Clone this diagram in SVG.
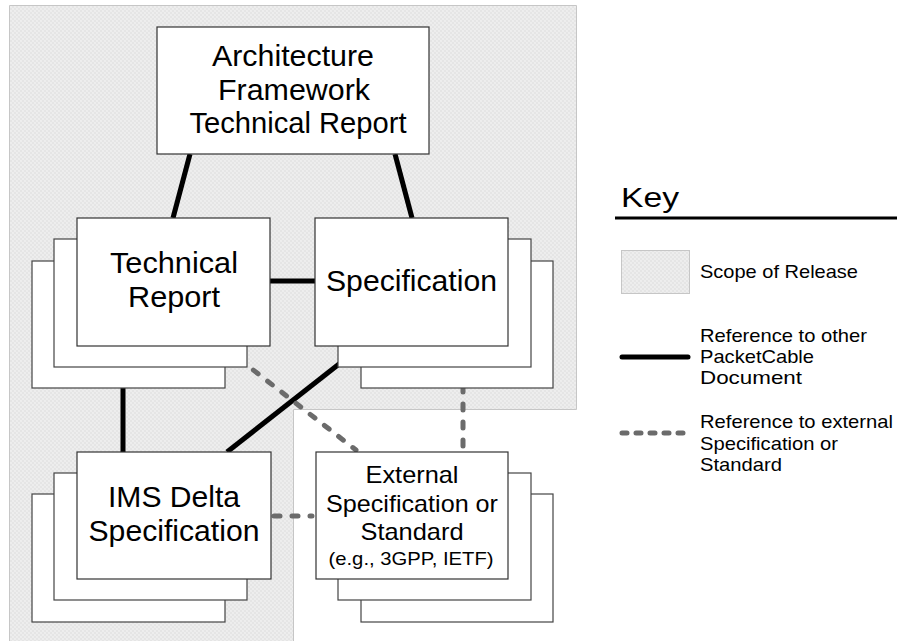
<svg xmlns="http://www.w3.org/2000/svg" width="897" height="641" viewBox="0 0 897 641">
<defs>
<pattern id="dots" width="4" height="4" patternUnits="userSpaceOnUse">
<rect width="4" height="4" fill="#e5e5e5"/>
<circle cx="1" cy="1" r="0.9" fill="#f2f2f2"/>
<circle cx="3" cy="3" r="0.9" fill="#f2f2f2"/>
</pattern>
<style>
.scope{fill:url(#dots);stroke:#c6c6c6;stroke-width:1}
.box{fill:#ffffff;stroke:#333333;stroke-width:1.2}
.back{fill:#ffffff;stroke:#444444;stroke-width:1.2}
.t{font-family:"Liberation Sans",Arial,sans-serif;fill:#000000;text-anchor:middle;font-size:29px}
.k{font-family:"Liberation Sans",Arial,sans-serif;fill:#000000;font-size:19px}
.solid{stroke:#000000;stroke-width:5;fill:none}
.dash{stroke:#6b6b6b;stroke-width:5;fill:none;stroke-linecap:round;stroke-dasharray:6 12}
</style>
</defs>
<rect width="897" height="641" fill="#ffffff"/>
<g id="scope">
<polygon class="scope" points="9.5,5.5 576.5,5.5 576.5,409.5 293.5,409.5 293.5,645 9.5,645"/>
</g>
<g id="connectors">
<line class="solid" x1="190" y1="154" x2="173" y2="218"/>
<line class="solid" x1="395" y1="154" x2="412" y2="218"/>
<line class="solid" x1="270" y1="281" x2="316" y2="281"/>
<line class="solid" x1="123" y1="346" x2="123" y2="452"/>
<line class="solid" x1="362" y1="346" x2="227" y2="452"/>
<line class="dash" x1="225" y1="348" x2="356" y2="450"/>
<line class="dash" x1="463" y1="350" x2="463" y2="450"/>
<line class="dash" x1="274" y1="516" x2="312" y2="516"/>
</g>
<g id="arch">
<rect class="box" x="157" y="27" width="272" height="127"/>
<text class="t" x="293" y="66" textLength="162" lengthAdjust="spacingAndGlyphs">Architecture</text>
<text class="t" x="294" y="100" textLength="152" lengthAdjust="spacingAndGlyphs">Framework</text>
<text class="t" x="298" y="133" textLength="217" lengthAdjust="spacingAndGlyphs">Technical Report</text>
</g>
<g id="techreport">
<rect class="back" x="32" y="261" width="193" height="127"/>
<rect class="back" x="54" y="239" width="193" height="128"/>
<rect class="box" x="77" y="218" width="193" height="128"/>
<text class="t" x="174" y="273" textLength="128" lengthAdjust="spacingAndGlyphs">Technical</text>
<text class="t" x="174" y="307" textLength="92" lengthAdjust="spacingAndGlyphs">Report</text>
</g>
<g id="spec">
<rect class="back" x="361" y="261" width="192" height="127"/>
<rect class="back" x="338" y="239" width="193" height="128"/>
<rect class="box" x="315" y="218" width="193" height="128"/>
<text class="t" x="411.5" y="291" textLength="171" lengthAdjust="spacingAndGlyphs">Specification</text>
</g>
<g id="ims">
<rect class="back" x="32" y="494" width="193" height="128"/>
<rect class="back" x="54" y="473" width="193" height="127"/>
<rect class="box" x="77" y="452" width="194" height="127"/>
<text class="t" x="174" y="507" textLength="132" lengthAdjust="spacingAndGlyphs">IMS Delta</text>
<text class="t" x="174" y="541" textLength="171" lengthAdjust="spacingAndGlyphs">Specification</text>
</g>
<g id="external">
<rect class="back" x="361" y="494" width="192" height="128"/>
<rect class="back" x="338" y="473" width="193" height="127"/>
<rect class="box" x="316" y="452" width="192" height="127"/>
<text class="t" style="font-size:24px" x="412" y="483" textLength="93" lengthAdjust="spacingAndGlyphs">External</text>
<text class="t" style="font-size:24px" x="412" y="512" textLength="172" lengthAdjust="spacingAndGlyphs">Specification or</text>
<text class="t" style="font-size:24px" x="412" y="540" textLength="103" lengthAdjust="spacingAndGlyphs">Standard</text>
<text class="t" style="font-size:19px" x="411" y="565" textLength="165" lengthAdjust="spacingAndGlyphs">(e.g., 3GPP, IETF)</text>
</g>
<g id="key">
<text font-family="Liberation Sans, Arial, sans-serif" font-size="28" x="621" y="207" textLength="58" lengthAdjust="spacingAndGlyphs">Key</text>
<line x1="615" y1="218" x2="897" y2="218" stroke="#000" stroke-width="3"/>
<rect class="scope" x="621.5" y="250.5" width="68" height="43"/>
<text class="k" x="700" y="278" textLength="158" lengthAdjust="spacingAndGlyphs">Scope of Release</text>
<line x1="622" y1="357" x2="688" y2="357" stroke="#000" stroke-width="5" stroke-linecap="round"/>
<text class="k" x="700" y="342" textLength="167" lengthAdjust="spacingAndGlyphs">Reference to other</text>
<text class="k" x="700" y="363" textLength="114" lengthAdjust="spacingAndGlyphs">PacketCable</text>
<text class="k" x="700" y="384" textLength="102" lengthAdjust="spacingAndGlyphs">Document</text>
<line x1="622" y1="433" x2="690" y2="433" stroke="#6b6b6b" stroke-width="5" stroke-linecap="round" stroke-dasharray="5 9"/>
<text class="k" x="700" y="428" textLength="193" lengthAdjust="spacingAndGlyphs">Reference to external</text>
<text class="k" x="700" y="450" textLength="138" lengthAdjust="spacingAndGlyphs">Specification or</text>
<text class="k" x="700" y="471" textLength="82" lengthAdjust="spacingAndGlyphs">Standard</text>
</g>
</svg>
